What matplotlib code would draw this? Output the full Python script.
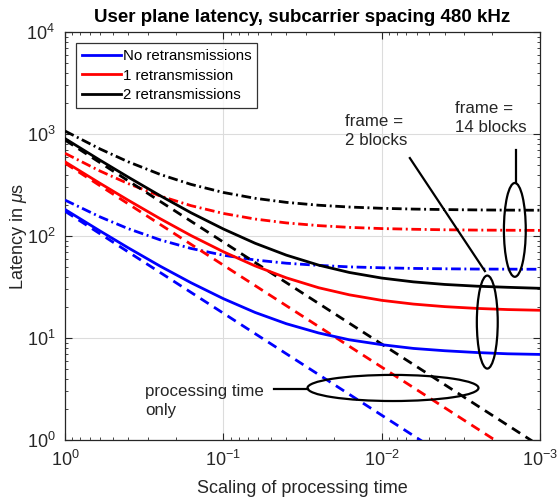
import matplotlib
matplotlib.use('Agg')
import matplotlib.pyplot as plt
from matplotlib.patches import Ellipse
from matplotlib.lines import Line2D
from matplotlib.ticker import NullFormatter

plt.rcParams['font.family'] = ['Liberation Sans', 'DejaVu Sans']
plt.rcParams['mathtext.fontset'] = 'custom'
plt.rcParams['mathtext.rm'] = 'Liberation Sans'
plt.rcParams['mathtext.it'] = 'Liberation Sans:italic'
plt.rcParams['lines.scale_dashes'] = False

# ---------------- data ----------------
series_names = ["No retransmissions", "1 retransmission", "2 retransmissions"]
series_colors = ["#0000ff", "#ff0000", "#000000"]

scaling = [1, 0.6, 0.4, 0.25, 0.16, 0.1, 0.063, 0.04, 0.025, 0.016,
           0.01, 0.0063, 0.004, 0.0025, 0.0016, 0.001]
scaling_proc = [1, 0.001]

# processing time only (dashed)
proc_none = [175, 0.175]
proc_one = [518, 0.518]
proc_two = [872, 0.872]

# frame = 2 blocks (solid)
f2_none = [182, 111.9, 76.8, 50.5, 34.8, 24.3, 17.8, 13.8, 11.2, 9.6,
           8.6, 7.9, 7.5, 7.2, 7.0, 6.9]
f2_one = [534, 328, 225, 147.5, 101, 70.1, 50.9, 38.9, 31.1, 26.5,
          23.4, 21.5, 20.3, 19.5, 19.0, 18.7]
f2_two = [902, 553, 379, 248, 169, 117.2, 84.9, 64.9, 51.8, 43.9,
          38.7, 35.5, 33.5, 32.2, 31.4, 30.7]

# frame = 14 blocks (dash-dot)
f14_none = [225, 153.8, 118.2, 91.5, 75.5, 64.8, 58.2, 54.1, 51.5, 49.8,
            48.8, 48.1, 47.7, 47.4, 47.3, 47.2]
f14_one = [647, 433, 327, 246.5, 198.4, 166.4, 146.6, 134.4, 126.4, 121.5,
           118.3, 116.4, 115.1, 114.3, 113.9, 113.5]
f14_two = [1070, 713, 535, 401, 320.7, 267.2, 234.2, 213.7, 200.3, 192.3,
           186.9, 183.6, 181.6, 180.2, 179.4, 178.9]

proc_series = [proc_none, proc_one, proc_two]
f2_series = [f2_none, f2_one, f2_two]
f14_series = [f14_none, f14_one, f14_two]

# ---------------- figure ----------------
fig = plt.figure(figsize=(5.57, 4.98), dpi=100)
ax = fig.add_axes([0.1167, 0.1165, 0.8528, 0.8192])

lw = 2.0
dash = (7.0, 4.6)
dashdot = (7.0, 2.6, 1.4, 2.6)
for name, col, p, f2, f14 in zip(series_names, series_colors,
                                 proc_series, f2_series, f14_series):
    ax.plot(scaling_proc, p, color=col, lw=lw, linestyle=(0, dash), zorder=3)
    ax.plot(scaling, f14, color=col, lw=lw, linestyle=(0, dashdot), zorder=3)
    ax.plot(scaling, f2, color=col, lw=lw, linestyle='-', label=name, zorder=4)

ax.set_xscale('log')
ax.set_yscale('log')
ax.set_xlim(1, 1e-3)
ax.set_ylim(1, 1e4)

gray = '#262626'
for sp in ax.spines.values():
    sp.set_color(gray)
    sp.set_linewidth(0.9)
ax.tick_params(which='both', direction='in', top=True, right=True,
               colors=gray, labelcolor=gray)
ax.tick_params(which='major', length=5, width=0.8, labelsize=13, pad=7)
ax.tick_params(which='minor', length=2.5, width=0.6)
ax.xaxis.set_minor_formatter(NullFormatter())
ax.yaxis.set_minor_formatter(NullFormatter())
ax.grid(True, which='major', color='#dcdcdc', lw=0.8, zorder=0)
ax.set_axisbelow(True)

ax.set_title("User plane latency, subcarrier spacing 480 kHz",
             fontsize=13.5, fontweight='bold', color='black', pad=7)
ax.set_xlabel("Scaling of processing time", fontsize=13, color=gray, labelpad=7)
ax.set_ylabel(r"Latency in $\mu$s", fontsize=13, color=gray, labelpad=-2)

leg = ax.legend(loc='upper left', bbox_to_anchor=(0.023, 0.973),
                borderaxespad=0, fontsize=10.8, frameon=True, fancybox=False,
                handlelength=2.6, handletextpad=0.12, labelspacing=0.38,
                borderpad=0.4)
leg.get_frame().set_edgecolor('black')
leg.get_frame().set_linewidth(0.9)

# ---------------- annotations ----------------
T = ax.transAxes
ekw = dict(transform=T, fill=False, edgecolor='black', lw=1.6, zorder=6)
ax.add_patch(Ellipse((0.889, 0.289), 0.044, 0.228, **ekw))
ax.add_patch(Ellipse((0.947, 0.515), 0.046, 0.230, **ekw))
ax.add_patch(Ellipse((0.6905, 0.1275), 0.36, 0.064, **ekw))

lkw = dict(transform=T, color='black', lw=1.6, zorder=6)
ax.add_line(Line2D([0.726, 0.884], [0.691, 0.414], **lkw))
ax.add_line(Line2D([0.949, 0.949], [0.711, 0.630], **lkw))
ax.add_line(Line2D([0.44, 0.511], [0.125, 0.125], **lkw))

tkw = dict(transform=T, fontsize=12.2, color=gray, va='center', ha='left',
           linespacing=1.35, zorder=7)
ax.text(0.589, 0.757, "frame =\n2 blocks", **tkw)
ax.text(0.821, 0.789, "frame =\n14 blocks", **tkw)
ax.text(0.168, 0.0956, "processing time\nonly", **tkw)

fig.savefig('out.png', dpi=100)
